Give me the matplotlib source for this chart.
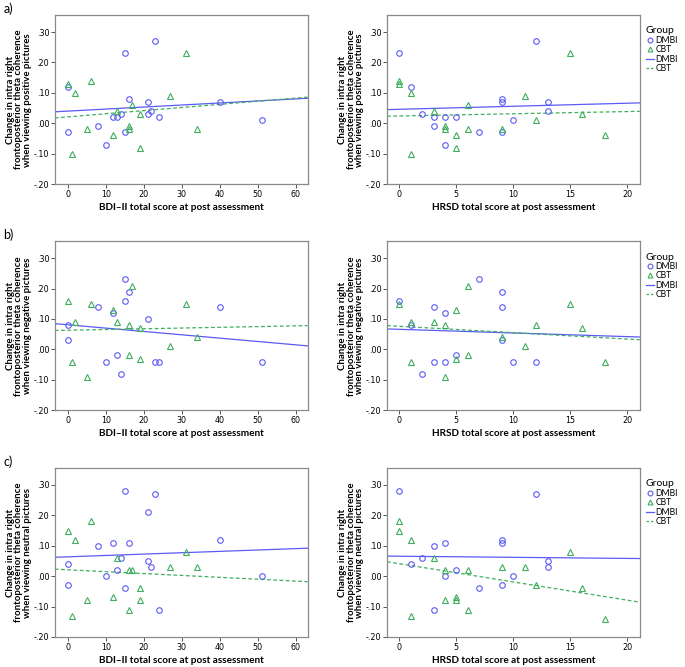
import numpy as np
import matplotlib.pyplot as plt
from matplotlib.lines import Line2D

# --- data -----------------------------------------------------------------
# left column: BDI-II score, right column: HRSD score
bdi_dmbi = [0, 0, 8, 10, 12, 13, 14, 15, 15, 16, 21, 21, 22, 23, 24, 40, 51]
bdi_cbt = [0, 1, 2, 5, 6, 12, 13, 16, 16, 17, 19, 19, 27, 31, 34]
hrsd_dmbi = [0, 1, 2, 3, 3, 4, 4, 5, 7, 9, 9, 9, 10, 12, 13, 13]
hrsd_cbt = [0, 0, 1, 1, 3, 4, 4, 5, 5, 6, 6, 9, 11, 12, 15, 16, 18]

# positive pictures
pos_bdi_dmbi = [0.12, -0.03, -0.01, -0.07, 0.02, 0.02, 0.03, 0.23, -0.03, 0.08, 0.07, 0.03, 0.04, 0.27, 0.02, 0.07, 0.01]
pos_bdi_cbt = [0.13, -0.10, 0.10, -0.02, 0.14, -0.04, 0.04, -0.01, -0.02, 0.06, 0.03, -0.08, 0.09, 0.23, -0.02]
pos_hrsd_dmbi = [0.23, 0.12, 0.03, 0.02, -0.01, 0.02, -0.07, 0.02, -0.03, 0.08, 0.07, -0.03, 0.01, 0.27, 0.07, 0.04]
pos_hrsd_cbt = [0.14, 0.13, 0.10, -0.10, 0.04, -0.01, -0.02, -0.04, -0.08, 0.06, -0.02, -0.02, 0.09, 0.01, 0.23, 0.03, -0.04]

# negative pictures
neg_bdi_dmbi_x = [0, 0, 8, 10, 12, 13, 14, 15, 15, 16, 21, 23, 24, 40, 51]
neg_bdi_dmbi = [0.08, 0.03, 0.14, -0.04, 0.12, -0.02, -0.08, 0.23, 0.16, 0.19, 0.10, -0.04, -0.04, 0.14, -0.04]
neg_bdi_cbt = [0.16, -0.04, 0.09, -0.09, 0.15, 0.13, 0.09, 0.08, -0.02, 0.21, 0.07, -0.03, 0.01, 0.15, 0.04]
neg_hrsd_dmbi_x = [0, 1, 2, 3, 3, 4, 4, 5, 7, 9, 9, 9, 10, 12]
neg_hrsd_dmbi = [0.16, 0.08, -0.08, 0.14, -0.04, 0.12, -0.04, -0.02, 0.23, 0.19, 0.14, 0.03, -0.04, -0.04]
neg_hrsd_cbt_x = [0, 1, 1, 3, 4, 4, 5, 5, 6, 6, 9, 11, 12, 15, 16, 18]
neg_hrsd_cbt = [0.15, 0.09, -0.04, 0.09, 0.08, -0.09, 0.13, -0.03, 0.21, -0.02, 0.04, 0.01, 0.08, 0.15, 0.07, -0.04]

# neutral pictures
neu_bdi_dmbi = [0.04, -0.03, 0.10, 0.00, 0.11, 0.02, 0.06, 0.28, -0.04, 0.11, 0.21, 0.05, 0.03, 0.27, -0.11, 0.12, 0.00]
neu_bdi_cbt = [0.15, -0.13, 0.12, -0.08, 0.18, -0.07, 0.06, 0.02, -0.11, 0.02, -0.04, -0.08, 0.03, 0.08, 0.03]
neu_hrsd_dmbi = [0.28, 0.04, 0.06, 0.10, -0.11, 0.11, 0.00, 0.02, -0.04, 0.12, 0.11, -0.03, 0.00, 0.27, 0.05, 0.03]
neu_hrsd_cbt = [0.18, 0.15, 0.12, -0.13, 0.06, 0.02, -0.08, -0.07, -0.08, 0.02, -0.11, 0.03, 0.03, -0.03, 0.08, -0.04, -0.14]

# fit lines (intercept, slope) as drawn in the figure
fit_dmbi = [[(0.040, 0.00067), (0.046, 0.0010)],
            [(0.081, -0.0011), (0.066, -0.0012)],
            [(0.0636, 0.00045), (0.0656, -0.00036)]]
fit_cbt = [[(0.021, 0.00103), (0.024, 0.00073)],
           [(0.063, 0.00024), (0.076, -0.0021)],
           [(0.021, -0.00062), (0.041, -0.0060)]]

row_labels = ['a)', 'b)', 'c)']
picture_types = ['positive', 'negative', 'neutral']
x_labels = ['BDI\u2013II total score at post assessment', 'HRSD total score at post assessment']
y_ticks = [-0.2, -0.1, 0.0, 0.1, 0.2, 0.3]
y_ticklabels = ['-.20', '-.10', '.00', '.10', '.20', '.30']

panels = [
    [(bdi_dmbi, pos_bdi_dmbi, bdi_cbt, pos_bdi_cbt), (hrsd_dmbi, pos_hrsd_dmbi, hrsd_cbt, pos_hrsd_cbt)],
    [(neg_bdi_dmbi_x, neg_bdi_dmbi, bdi_cbt, neg_bdi_cbt), (neg_hrsd_dmbi_x, neg_hrsd_dmbi, neg_hrsd_cbt_x, neg_hrsd_cbt)],
    [(bdi_dmbi, neu_bdi_dmbi, bdi_cbt, neu_bdi_cbt), (hrsd_dmbi, neu_hrsd_dmbi, hrsd_cbt, neu_hrsd_cbt)],
]

blue = '#5a5af5'
green = '#3fae5e'
frame = '#8a8a8a'

plt.rcParams['font.family'] = ['Lato', 'DejaVu Sans']
fig = plt.figure(figsize=(6.85, 6.67), dpi=100)

bottoms = [0.724, 0.385, 0.045]
lefts = [0.080, 0.565]
xlims = [(-3.4, 63.1), (-1.08, 21.08)]
xticks = [[0, 10, 20, 30, 40, 50, 60], [0, 5, 10, 15, 20]]

for r in range(3):
    for c in range(2):
        ax = fig.add_axes([lefts[c], bottoms[r], 0.369, 0.253])
        xd, yd, xc, yc = panels[r][c]
        ax.plot(xd, yd, 'o', ms=4, mfc='none', mec=blue, mew=0.8, zorder=3)
        ax.plot(xc, yc, '^', ms=4, mfc='none', mec=green, mew=0.8, zorder=3)
        xs = np.array(xlims[c])
        b0, b1 = fit_dmbi[r][c]
        ax.plot(xs, b0 + b1 * xs, color=blue, lw=0.9)
        b0, b1 = fit_cbt[r][c]
        ax.plot(xs, b0 + b1 * xs, color=green, lw=0.9, ls=(0, (3, 2)))
        ax.set_xlim(*xlims[c])
        ax.set_ylim(-0.2, 0.355)
        ax.set_xticks(xticks[c])
        ax.set_yticks(y_ticks)
        ax.set_yticklabels(y_ticklabels)
        ax.tick_params(labelsize=5.8, length=3, width=0.7, color='#555555', pad=1)
        for lab in ax.get_xticklabels() + ax.get_yticklabels():
            lab.set_family('DejaVu Sans')
        for s in ax.spines.values():
            s.set_color(frame)
            s.set_linewidth(0.9)
        ax.set_xlabel(x_labels[c], fontsize=7.2, fontweight='bold', labelpad=3)
        ax.set_ylabel('Change in intra right\nfrontoposterior theta coherence\nwhen viewing %s pictures' % picture_types[r],
                      fontsize=6.9, fontweight='bold', linespacing=0.88)
        ax.yaxis.set_label_coords(-0.092, 0.5)
        if c == 1:
            handles = [Line2D([], [], marker='o', ls='none', ms=3.5, mfc='none', mec=blue, mew=0.8),
                       Line2D([], [], marker='^', ls='none', ms=3.5, mfc='none', mec=green, mew=0.8),
                       Line2D([], [], color=blue, lw=0.9),
                       Line2D([], [], color=green, lw=0.9, ls=(0, (2, 1.5)))]
            leg = ax.legend(handles, ['DMBI', 'CBT', 'DMBI', 'CBT'], title='Group',
                            loc='upper left', bbox_to_anchor=(1.0, 0.97), frameon=False,
                            fontsize=6.2, title_fontsize=7.5, handlelength=0.9,
                            handletextpad=0.2, labelspacing=0.05, borderaxespad=0.3)
            leg._legend_box.align = 'left'
    fig.text(0.005, bottoms[r] + 0.253 + 0.004, row_labels[r], fontsize=9)

fig.savefig('out.png', dpi=100)
